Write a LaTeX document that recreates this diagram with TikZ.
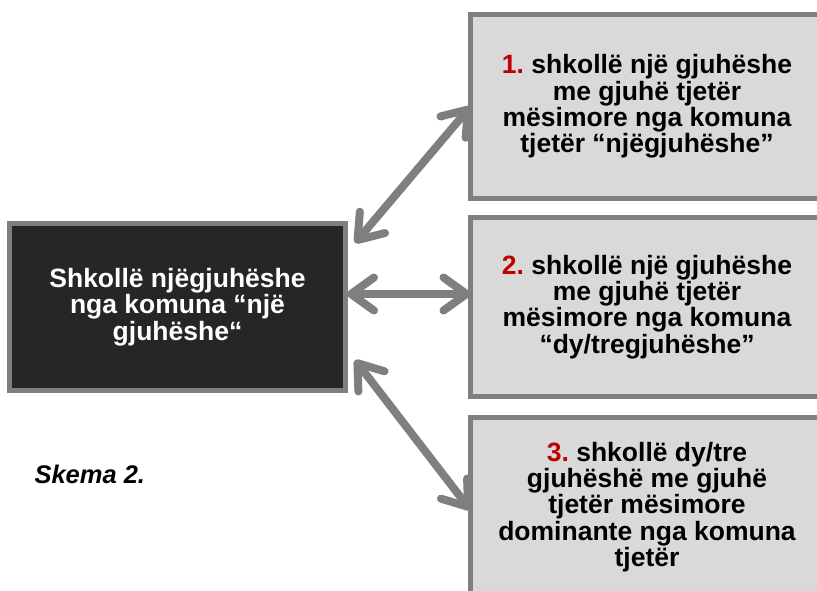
\documentclass[tikz,border=0pt]{standalone}
\usepackage{fontspec}
\setmainfont{Liberation Sans}
\usetikzlibrary{arrows.meta}
\frenchspacing
\definecolor{edgegray}{HTML}{7F7F7F}
\definecolor{lightfill}{HTML}{D9D9D9}
\definecolor{darkfill}{HTML}{262626}
\definecolor{numred}{HTML}{C00000}
\newcommand{\num}[1]{\textcolor{numred}{#1}}

\begin{document}
\begin{tikzpicture}[x=1pt,y=1pt,
  box/.style={draw=edgegray, line width=5pt, fill=lightfill, outer sep=0pt,
    inner sep=0pt, align=center, font=\fontsize{26.5}{26.3}\selectfont\bfseries},
  mainbox/.style={box, fill=darkfill, text=white},
  link/.style={draw=edgegray, line width=8pt,
    {Straight Barb[length=23pt,width=33pt,round]}-{Straight Barb[length=23pt,width=33pt,round]}}]
\useasboundingbox (0,0) rectangle (817,590);
\clip (0,0) rectangle (817,590);

% schools
\node[mainbox, minimum width=336, minimum height=167] (main) at (177.5,283)
  {Shkollë njëgjuhëshe\\nga komuna “një\\gjuhëshe“};
\node[box, minimum width=353, minimum height=184] (first) at (647,483.5)
  {\num{1.} shkollë një gjuhëshe\\me gjuhë tjetër\\mësimore nga komuna\\tjetër “njëgjuhëshe”};
\node[box, minimum width=353, minimum height=179] (second) at (647,283)
  {\num{2.} shkollë një gjuhëshe\\me gjuhë tjetër\\mësimore nga komuna\\“dy/tregjuhëshe”};
\node[box, minimum width=353, minimum height=180] (third) at (647,83)
  {\num{3.} shkollë dy/tre\\gjuhëshë me gjuhë\\tjetër mësimore\\dominante nga komuna\\tjetër};

\node[anchor=base west, font=\fontsize{25.5}{26}\selectfont\bfseries\itshape] (caption) at (31,107) {Skema 2.};

% links
\draw[link] ([shift={(9.5,-19.5)}]main.north east) -- (first.west);
\draw[link] ([shift={(1.5,13)}]main.east) -- ([yshift=13]second.west);
\draw[link] ([shift={(9.5,30.5)}]main.south east) -- ([yshift=-3]third.west);
\end{tikzpicture}
\end{document}
